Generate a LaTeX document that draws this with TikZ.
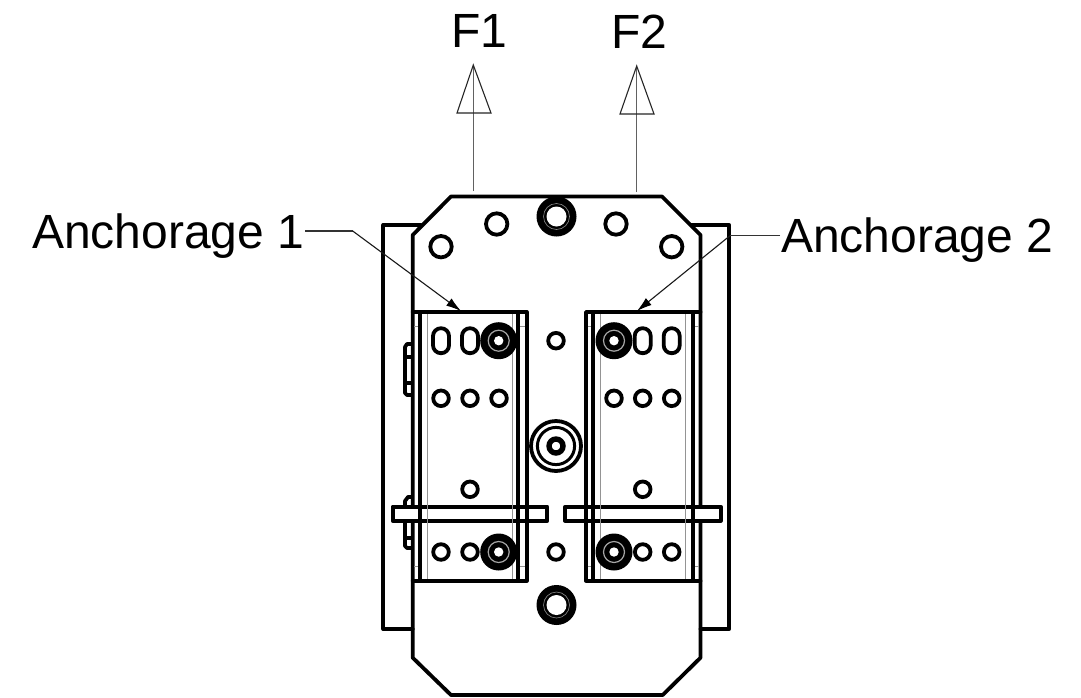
\documentclass[tikz,border=0pt]{standalone}
\usepackage{fontspec}
\setmainfont{Liberation Sans}
\usetikzlibrary{arrows.meta}
\tikzset{
  heavy/.style={line width=3.8pt,line join=round,line cap=round},
  hole/.style={line width=3.8pt},
  faint/.style={line width=1pt,color=black!42},
  leader/.style={line width=1.1pt,color=black!80},
  pull/.style={line width=1.1pt,color=black!62},
  tiplead/.style={line width=1.1pt,color=black!90,-{Latex[length=15pt,width=9pt,color=black]}},
  tri/.style={line width=1.1pt,color=black!85,line join=miter},
  lab/.style={font=\fontsize{48}{48}\selectfont,anchor=base west,inner sep=0pt,outer sep=0pt},
}
\begin{document}
\begin{tikzpicture}[x=1pt,y=-1pt]
\useasboundingbox[fill=white] (0,0) rectangle (1081,697);

% back plate
\draw[heavy] (420.7,225) -- (383.3,225) -- (383.3,629) -- (412.7,629);
\draw[heavy] (691.7,225) -- (729.3,225) -- (729.3,629) -- (700.5,629);

% main plate
\draw[heavy] (451,196.5) -- (662,196.5) -- (700.5,235) -- (700.5,657.7) -- (662.7,695) -- (451,695) -- (412.7,657.7) -- (412.7,235) -- cycle;

% side tabs
\draw[heavy] (412,344) -- (407,344) -- (405,347) -- (405,393) -- (407,395) -- (412,395);
\draw[heavy] (405,357) -- (412,357) (405,383) -- (412,383);
\draw[heavy] (412,497) -- (408,497) -- (405,501) -- (405,546) -- (407,548) -- (412,548);
\draw[heavy] (405,538) -- (412,538);

% cross bars
\draw[heavy,fill=white] (392.7,506.7) rectangle (547.3,520.7);
\draw[heavy,fill=white] (565,506.7) rectangle (720.7,520.7);

% brackets
\draw[faint] (427.3,313) -- (427.3,580) (512.7,313) -- (512.7,580);
\draw[faint] (600.3,313) -- (600.3,580) (685.7,313) -- (685.7,580);
\draw[faint] (414,326) -- (420,326) (519,326) -- (526,326) (414,566) -- (420,566) (519,566) -- (526,566);
\draw[faint] (587,326) -- (593,326) (693,326) -- (699,326) (587,566) -- (593,566) (693,566) -- (699,566);
\draw[heavy] (412.7,312) -- (526.7,312) -- (526.7,580.7) -- (412.7,580.7);
\draw[heavy] (420,312) -- (420,580.7) (518.3,312) -- (518.3,580.7);
\draw[heavy] (700.5,312) -- (586,312) -- (586,580.7) -- (700.5,580.7);
\draw[heavy] (593.3,312) -- (593.3,580.7) (692.7,312) -- (692.7,580.7);

% large plate holes
\foreach \p in {(441,246.7),(496.7,224),(616,224),(671.7,246.7)}
  \draw[hole] \p circle[radius=10.7];

% small holes
\foreach \p in {(441,398.3),(470,398.3),(499,398.3),(614,398.3),(642.7,398.3),(671.7,398.3),
                (470,489.3),(642.7,489.3),(441,552),(470,552),(642.7,552),(671.7,552),
                (556,340.7),(556,552)}
  \draw[hole] \p circle[radius=7.8];

% slots
\foreach \x in {441,470,642.7,671.7}
  \draw[hole,rounded corners=7.9pt] (\x-8,328.2) rectangle (\x+8,353.2);

% bolts with washers
\foreach \p in {(498.7,340.7),(614,340.7),(498.7,552),(614,552)}{
  \fill \p circle[radius=18.5];
  \draw[line width=1.2pt,color=black!35] \p circle[radius=10.5];
  \fill[white] \p circle[radius=4.7];
}

% top and bottom bolts
\foreach \p in {(556.5,216.5),(556.5,605)}{
  \fill \p circle[radius=20];
  \draw[line width=.6pt,color=black!45] \p circle[radius=13];
  \fill[white] \p circle[radius=10];
}

% central boss
\draw[hole] (556,446) circle[radius=25];
\draw[line width=3pt] (556,446) circle[radius=18.6];
\draw[line width=5.4pt] (556,446) circle[radius=7];

% labels
\node[lab] (fone) at (451,47) {F1};
\node[lab] (ftwo) at (611,48) {F2};
\node[lab] (aone) at (32,248) {Anchorage 1};
\node[lab] (atwo) at (781,252) {Anchorage 2};

% pull arrows
\coordinate (fonetail) at (473.3,191);
\coordinate (fonetip) at (473.3,65);
\coordinate (ftwotail) at (636.7,192);
\coordinate (ftwotip) at (636.7,66);
\draw[pull] (fonetail) -- (fonetip);
\draw[pull] (ftwotail) -- (ftwotip);
\draw[tri] (fonetip) -- (457,113) -- (491,113) -- cycle;
\draw[tri] (ftwotip) -- (620,114) -- (654,114) -- cycle;

% leaders
\coordinate (aonestart) at (305,231);
\coordinate (aonebend) at (352.7,231);
\coordinate (aonetip) at (461,311);
\coordinate (atwostart) at (780,235.7);
\coordinate (atwobend) at (730,235.7);
\coordinate (atwotip) at (637,311);
\draw[leader] (aonestart) -- (aonebend);
\draw[tiplead] (aonebend) -- (aonetip);
\draw[leader] (atwostart) -- (atwobend);
\draw[tiplead] (atwobend) -- (atwotip);
\end{tikzpicture}
\end{document}
